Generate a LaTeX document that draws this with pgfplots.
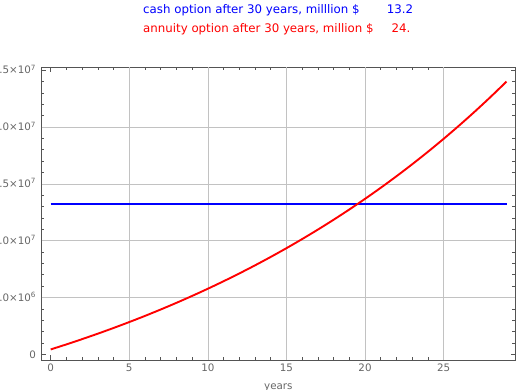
\documentclass[border=0pt]{standalone}
\usepackage{fontspec}
\setmainfont{DejaVu Sans}
\usepackage{pgfplots}
\pgfplotsset{compat=1.18}
\definecolor{lab}{gray}{0.4}
\definecolor{frm}{gray}{0.33}
\definecolor{grd}{gray}{0.76}
\definecolor{mblue}{rgb}{0,0,1}
\definecolor{mred}{rgb}{1,0,0}
\begin{document}
\begin{tikzpicture}
\begin{axis}[
  width=473.3pt, height=292.7pt, scale only axis,
  xmin=-0.57, xmax=29.54, ymin=-0.5e6, ymax=25.26e6,
  clip=false,
  axis line style={frm, line width=0.8pt},
  every tick/.style={frm, line width=0.6pt},
  major tick length=4.5pt, minor tick length=2.8pt,
  tick align=inside, tick pos=both,
  xtick={0,5,10,15,20,25}, minor x tick num=4,
  ytick={0,5e6,1e7,1.5e7,2e7,2.5e7}, minor y tick num=4,
  scaled y ticks=false,
  yticklabels={0,5.0×10\textsuperscript{6},1.0×10\textsuperscript{7},1.5×10\textsuperscript{7},2.0×10\textsuperscript{7},2.5×10\textsuperscript{7}},
  /pgf/number format/assume math mode=true,
  extra x ticks={5,10,15,20,25}, extra x tick labels={},
  extra y ticks={5e6,1e7,1.5e7,2e7}, extra y tick labels={},
  extra tick style={grid=major, major tick length=0pt},
  major grid style={grd, line width=0.6pt},
  ticklabel style={font=\fontsize{10.3}{12}\selectfont, text=lab},
  x tick label style={inner sep=0pt, yshift=-4pt},
  y tick label style={anchor=base east, inner sep=0pt, xshift=-5.5pt, yshift=-3.7pt},
]
\addplot[mblue, line width=2.1pt] coordinates {(0,13.2e6) (29,13.2e6)};
\addplot[mred, line width=1.9pt, smooth] coordinates {
(0,0.428e6) (1,0.873e6) (2,1.336e6) (3,1.817e6) (4,2.318e6) (5,2.839e6)
(6,3.380e6) (7,3.944e6) (8,4.529e6) (9,5.139e6) (10,5.772e6) (11,6.431e6)
(12,7.116e6) (13,7.829e6) (14,8.570e6) (15,9.341e6) (16,10.143e6) (17,10.976e6)
(18,11.843e6) (19,12.745e6) (20,13.683e6) (21,14.658e6) (22,15.672e6) (23,16.727e6)
(24,17.824e6) (25,18.965e6) (26,20.152e6) (27,21.386e6) (28,22.670e6) (29,24.004e6)};
\node[anchor=base, text=lab, font=\fontsize{10.3}{12}\selectfont] at (rel axis cs:0.5,0) [yshift=-29.5pt] {years};
\node[anchor=base west, text=mblue, font=\fontsize{11.8}{14}\selectfont, inner sep=0pt, xshift=101.3pt, yshift=54pt] at (rel axis cs:0,1) {cash option after 30 years, milllion \$};
\node[anchor=base, text=mblue, font=\fontsize{11.8}{14}\selectfont, inner sep=0pt, xshift=358.3pt, yshift=54pt] at (rel axis cs:0,1) {13.2};
\node[anchor=base west, text=mred, font=\fontsize{11.8}{14}\selectfont, inner sep=0pt, xshift=101.3pt, yshift=35pt] at (rel axis cs:0,1) {annuity option after 30 years, million \$};
\node[anchor=base, text=mred, font=\fontsize{11.8}{14}\selectfont, inner sep=0pt, xshift=359.3pt, yshift=35pt] at (rel axis cs:0,1) {24.};
\coordinate (SW) at (rel axis cs:0,0);
\coordinate (NE) at (rel axis cs:1,1);
\end{axis}
\pgfresetboundingbox
\path[use as bounding box] ([xshift=-41.7pt,yshift=-30pt]SW) rectangle ([xshift=5pt,yshift=67.3pt]NE);
\end{tikzpicture}
\end{document}
